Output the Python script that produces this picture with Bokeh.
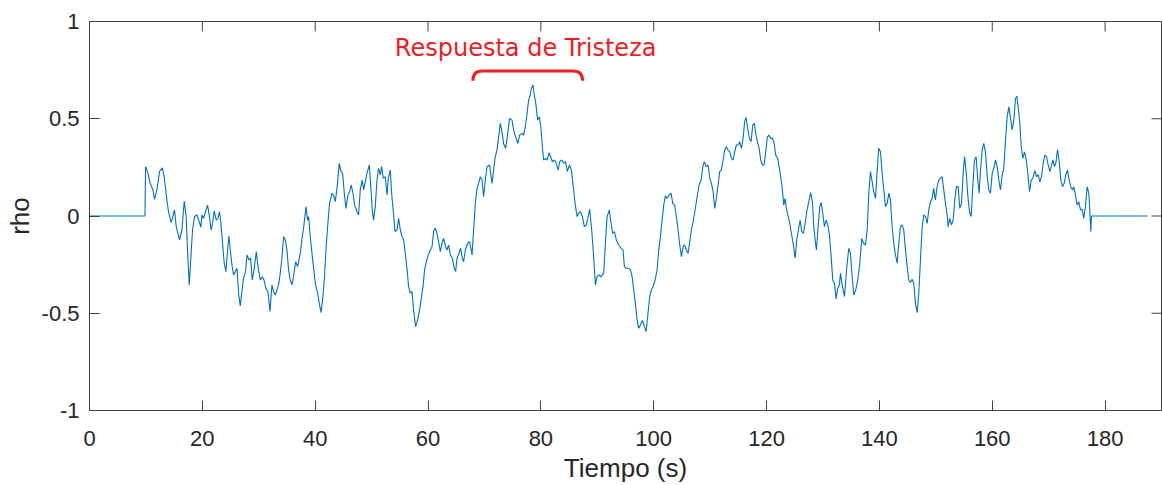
import math
from bokeh.plotting import figure
from bokeh.models import FixedTicker, CustomJSTickFormatter, Range1d
from bokeh.core.properties import value
from bokeh.embed import file_html
from bokeh.resources import INLINE

# ---- data ----
time_s = [0, 9.83, 9.93, 10.28, 10.76, 11.24, 11.52, 11.95, 12.41, 12.89, 13.24, 13.72, 14.0, 14.48, 14.78, 15.07, 15.37, 15.95, 16.38, 16.79, 17.14, 17.37, 17.67, 17.98, 18.26, 18.62, 19.04, 19.45, 19.75, 19.92, 20.21, 20.56, 20.92, 21.22, 21.57, 21.87, 22.1, 22.46, 22.76, 23.04, 23.29, 23.58, 23.88, 24.18, 24.47, 24.71, 24.95, 25.25, 25.53, 25.83, 26.13, 26.42, 26.72, 27.02, 27.3, 27.66, 27.91, 28.26, 28.55, 28.85, 29.2, 29.56, 29.86, 30.27, 30.62, 30.92, 31.28, 31.63, 31.99, 32.34, 32.62, 32.93, 33.23, 33.51, 33.81, 34.11, 34.4, 34.7, 35.0, 35.28, 35.58, 35.88, 36.17, 36.52, 36.88,
          37.36, 37.66, 37.94, 38.37, 38.65, 38.83, 39.13, 39.49, 39.72, 40.02, 40.43, 40.73, 41.03, 41.31, 41.61, 41.91, 42.2, 42.55, 42.98, 43.26, 43.56, 43.86, 44.27, 44.57, 44.86, 45.16, 45.46, 45.81, 46.1, 46.4, 46.7, 46.98, 47.41, 47.69, 47.99, 48.35, 48.58, 48.88, 49.18, 49.59, 49.89, 50.12, 50.35, 50.65, 50.95, 51.24, 51.54, 51.77, 52.07, 52.43, 52.73, 52.96, 53.31, 53.55, 53.85, 54.15, 54.5, 54.79, 55.09, 55.39, 55.67, 55.97, 56.27, 56.56, 56.86, 57.16, 57.44, 57.8, 58.15, 58.51, 58.81, 59.11, 59.39, 59.7, 60.05, 60.41, 60.71, 60.99, 61.29, 61.59, 61.88, 62.18, 62.48, 62.76, 63.12, 63.37, 63.65, 63.95, 64.31, 64.66, 64.89, 65.14, 65.49, 65.78, 66.08, 66.31, 66.61,
          67.02, 67.37, 67.8, 68.08, 68.38, 68.69, 68.97, 69.27, 69.57, 69.85, 70.15, 70.45, 70.91, 71.34, 71.62, 71.92, 72.22, 72.51, 72.81, 73.16, 73.39, 73.75, 74.05, 74.46, 74.88, 75.17, 75.52, 75.95, 76.23, 76.66, 76.95, 77.25, 77.55, 77.83, 78.13, 78.31, 78.61, 78.84, 79.14, 79.43, 79.73, 80.03, 80.26, 80.49, 80.79, 81.09, 81.45, 81.73, 82.03, 82.39, 82.74, 83.05, 83.33, 83.68, 84.04, 84.39, 84.69, 85.05, 85.41, 85.71, 86.06, 86.42, 86.7, 87.0, 87.36, 87.71, 88.07, 88.37, 88.65, 89.01, 89.36, 89.66, 89.96, 90.25, 90.67, 91.14, 91.44, 91.74, 92.14, 92.45, 92.73, 93.03, 93.38, 93.79, 94.22,
          94.57, 94.8, 95.15, 95.56, 95.87, 96.17, 96.45, 96.75, 97.05, 97.34, 97.64, 97.99, 98.35, 98.65, 98.93, 99.29, 99.59, 99.89, 100.25, 100.6, 100.89, 101.19, 101.49, 101.77, 102.07, 102.38, 102.73, 103.09, 103.37, 103.72, 104.02, 104.32, 104.61, 104.91, 105.21, 105.49, 105.79, 106.09, 106.38, 106.68, 106.98, 107.34, 107.69, 108.05, 108.4, 108.76, 108.99, 109.29, 109.65, 109.93, 110.23, 110.53, 110.81, 111.11, 111.41, 111.7, 112.0, 112.3, 112.58, 112.88, 113.18, 113.47, 113.77, 114.07, 114.35, 114.65, 114.95, 115.24, 115.54, 115.84, 116.12, 116.37, 116.66, 116.96, 117.26, 117.55, 117.85, 118.08, 118.38, 118.68, 118.97, 119.27, 119.57, 119.85, 120.15, 120.45, 120.74, 121.04, 121.34, 121.63, 121.98, 122.28,
          122.76, 123.05, 123.29, 123.52, 123.83, 124.11, 124.41, 124.71, 125.07, 125.35, 125.65, 125.95, 126.24, 126.54, 126.84, 127.12, 127.48, 127.83, 128.13, 128.37, 128.61, 128.84, 129.14, 129.43, 129.68, 129.96, 130.26, 130.56, 130.85, 131.15, 131.45, 131.73, 132.03, 132.33, 132.62, 132.92, 133.1, 133.4, 133.81, 134.04, 134.29, 134.57, 134.87, 135.17, 135.46, 135.81, 136.17, 136.52, 136.88, 137.18, 137.53, 137.83, 138.12, 138.42, 138.72, 139.0, 139.31, 139.61, 139.89, 140.19, 140.49, 140.78, 141.08, 141.38, 141.66, 141.96, 142.26, 142.55, 142.85, 143.15, 143.43, 143.73, 144.03, 144.32, 144.62, 144.92, 145.2, 145.5, 145.8, 146.09, 146.39, 146.69, 146.98, 147.28, 147.58, 147.86, 148.16, 148.46, 148.75, 149.05, 149.35, 149.63, 149.93, 150.23, 150.52, 150.82,
          151.12, 151.41, 151.71, 152.01, 152.19, 152.47, 152.77, 153.07, 153.36, 153.66, 153.96, 154.24, 154.55, 154.85, 155.08, 155.38, 155.66, 155.97, 156.27, 156.55, 156.85, 157.15, 157.44, 157.69, 157.92, 158.22, 158.5, 158.8, 159.11, 159.39, 159.69, 159.99, 160.28, 160.58, 160.88, 161.16, 161.46, 161.76, 162.05, 162.35, 162.65, 162.94, 163.24, 163.54, 163.82, 164.12, 164.36, 164.66, 164.89, 165.14, 165.42, 165.72, 166.02, 166.31, 166.61, 166.91, 167.19, 167.55, 167.84, 168.15, 168.43, 168.73, 169.03, 169.32, 169.62, 169.92, 170.21, 170.51, 170.74, 171.04, 171.27, 171.57, 171.87, 172.15, 172.45, 172.75, 173.04, 173.34, 173.64, 173.92, 174.22, 174.45, 174.75, 175.05, 175.34, 175.64, 175.94, 176.22, 176.52, 176.82, 177.11, 177.29, 177.47, 177.59, 187.5]

rho = [0, 0, 0.253, 0.228, 0.168, 0.134, 0.086, 0.134, 0.228, 0.248, 0.202, 0.082, 0.022, -0.034, -0.003, 0.031, -0.055, -0.123, -0.072, 0.077, -0.003, -0.175, -0.354, -0.209, -0.072, -0.003, 0.005, -0.029, -0.058, 0.005, -0.012, 0.022, 0.056, 0.005, -0.072, -0.029, 0.027, -0.021, -0.012, 0.022, -0.034, -0.140, -0.243, -0.286, -0.175, -0.103, -0.175, -0.252, -0.303, -0.286, -0.269, -0.397, -0.462, -0.389, -0.320, -0.286, -0.200, -0.226, -0.217, -0.329, -0.269, -0.183, -0.260, -0.329, -0.312, -0.329, -0.372, -0.389, -0.491, -0.354, -0.389, -0.406, -0.380, -0.354, -0.294, -0.217, -0.106, -0.123, -0.175, -0.277, -0.329, -0.354, -0.312, -0.235, -0.260,
       -0.192, -0.115, -0.063, 0.048, -0.021, -0.003, -0.106, -0.209, -0.269, -0.346, -0.397, -0.449, -0.497, -0.431, -0.329, -0.175, -0.055, 0.065, 0.117, 0.108, 0.074, 0.142, 0.271, 0.228, 0.220, 0.117, 0.039, 0.108, 0.125, 0.159, 0.117, 0.056, 0.022, 0.005, 0.134, 0.185, 0.134, 0.177, 0.220, 0.262, 0.134, 0.031, -0.021, 0.048, 0.185, 0.245, 0.211, 0.254, 0.194, 0.202, 0.108, 0.194, 0.236, 0.117, 0.022, -0.080, -0.072, -0.012, -0.072, -0.106, -0.123, -0.192, -0.269, -0.363, -0.397, -0.389, -0.483, -0.569, -0.534, -0.483, -0.423, -0.363, -0.277, -0.235, -0.200, -0.175, -0.158, -0.080, -0.063, -0.089, -0.132, -0.183, -0.140, -0.115, -0.158, -0.175, -0.149, -0.200, -0.217, -0.269, -0.286, -0.217, -0.192, -0.166, -0.217, -0.235, -0.175,
       -0.140, -0.132, -0.200, -0.072, 0.065, 0.142, 0.168, 0.202, 0.185, 0.099, 0.185, 0.253, 0.262, 0.168, 0.236, 0.305, 0.339, 0.407, 0.476, 0.425, 0.373, 0.348, 0.407, 0.502, 0.493, 0.442, 0.407, 0.373, 0.416, 0.425, 0.416, 0.459, 0.527, 0.596, 0.622, 0.656, 0.673, 0.622, 0.570, 0.493, 0.510, 0.450, 0.356, 0.288, 0.296, 0.288, 0.325, 0.305, 0.279, 0.288, 0.271, 0.236, 0.279, 0.288, 0.271, 0.279, 0.228, 0.262, 0.236, 0.159, 0.065, -0.003, 0.014, 0.022, -0.003, -0.055, -0.046, -0.003, 0.034, -0.072, -0.209, -0.354, -0.312, -0.303, -0.312, -0.294, -0.140, -0.003, 0.031, -0.038, -0.089, -0.080, -0.123, -0.149, -0.166,
       -0.175, -0.260, -0.269, -0.269, -0.277, -0.312, -0.380, -0.449, -0.534, -0.577, -0.560, -0.537, -0.569, -0.594, -0.517, -0.414, -0.380, -0.363, -0.329, -0.277, -0.175, -0.106, -0.021, 0.056, 0.103, 0.091, 0.108, 0.117, 0.065, 0.056, -0.003, -0.072, -0.149, -0.209, -0.158, -0.149, -0.175, -0.192, -0.132, -0.072, -0.029, 0.031, 0.099, 0.159, 0.185, 0.262, 0.279, 0.254, 0.262, 0.194, 0.168, 0.125, 0.039, 0.091, 0.159, 0.228, 0.236, 0.288, 0.339, 0.356, 0.339, 0.330, 0.296, 0.288, 0.330, 0.365, 0.365, 0.382, 0.348, 0.399, 0.485, 0.507, 0.450, 0.399, 0.382, 0.468, 0.476, 0.425, 0.382, 0.348, 0.288, 0.262, 0.262, 0.330, 0.407, 0.416, 0.399, 0.399, 0.373, 0.313, 0.296, 0.245,
       0.151, 0.056, 0.091, 0.039, -0.003, -0.038, -0.089, -0.140, -0.217, -0.123, -0.072, -0.021, -0.080, -0.089, -0.038, 0.022, 0.073, 0.120, 0.073, -0.055, -0.123, -0.175, -0.055, 0.048, 0.068, 0.014, -0.055, -0.021, -0.046, -0.098, -0.209, -0.329, -0.346, -0.426, -0.371, -0.354, -0.294, -0.354, -0.414, -0.329, -0.243, -0.166, -0.192, -0.312, -0.406, -0.380, -0.329, -0.243, -0.115, -0.140, -0.149, -0.072, 0.117, 0.228, 0.176, 0.125, 0.091, 0.236, 0.348, 0.330, 0.219, 0.134, 0.048, 0.065, 0.117, 0.082, -0.055, -0.140, -0.200, -0.243, -0.140, -0.055, -0.046, -0.072, -0.175, -0.260, -0.329, -0.342, -0.325, -0.346, -0.449, -0.497, -0.397, -0.226, -0.055, 0.005, -0.003, -0.038, 0.031, 0.073, 0.091, 0.142, 0.082, 0.151, 0.185, 0.194,
       0.202, 0.134, 0.065, 0.005, -0.055, -0.012, -0.046, -0.021, 0.082, 0.151, 0.151, 0.039, 0.065, 0.219, 0.305, 0.228, 0.108, 0.022, -0.003, 0.151, 0.288, 0.305, 0.185, 0.117, 0.236, 0.339, 0.373, 0.330, 0.202, 0.134, 0.117, 0.219, 0.245, 0.288, 0.254, 0.185, 0.134, 0.211, 0.245, 0.390, 0.510, 0.561, 0.502, 0.442, 0.493, 0.604, 0.616, 0.545, 0.476, 0.356, 0.296, 0.330, 0.288, 0.219, 0.125, 0.185, 0.194, 0.233, 0.202, 0.211, 0.176, 0.202, 0.271, 0.313, 0.305, 0.262, 0.228, 0.262, 0.288, 0.254, 0.271, 0.342, 0.279, 0.185, 0.151, 0.168, 0.211, 0.236, 0.185, 0.151, 0.134, 0.151, 0.108, 0.056, 0.073, 0.031, 0.035, -0.012, 0.048, 0.151, 0.117, 0.031, -0.080, 0.0, 0.0]

x_ticks = [0, 20, 40, 60, 80, 100, 120, 140, 160, 180]
y_ticks = [-1, -0.5, 0, 0.5, 1]
x_label = "Tiempo (s)"
y_label = "rho"
x_lim = (0, 190)
y_lim = (-1, 1)

anno_text = ["Respuesta de Tristeza"]
anno_x = [77.3]
anno_y = [0.866]
# brace: left/right rounded corners + top bar
brace_x0 = [67.95, 87.4]
brace_y0 = [0.695, 0.695]
brace_cx = [67.95, 87.4]
brace_cy = [0.746, 0.746]
brace_x1 = [69.6, 85.7]
brace_y1 = [0.746, 0.746]

LINE_BLUE = "#0072BD"
RED = "#EE1D23"
AX = "#262626"
AXLINE = "#404040"

p = figure(width=1162, height=485, output_backend="svg", toolbar_location=None,
           x_range=Range1d(*x_lim), y_range=Range1d(*y_lim),
           min_border_left=89, min_border_right=1, min_border_top=21, min_border_bottom=74,
           background_fill_color="white", border_fill_color="white")
p.outline_line_color = AXLINE
p.outline_line_width = 1
p.grid.visible = False

fmt = CustomJSTickFormatter(code="return tick.toString()")

p.xaxis.ticker = FixedTicker(ticks=x_ticks)
p.yaxis.ticker = FixedTicker(ticks=y_ticks)
for ax in (p.xaxis[0], p.yaxis[0]):
    ax.formatter = fmt
    ax.major_tick_in = 10
    ax.major_tick_out = 0
    ax.minor_tick_in = 0
    ax.minor_tick_out = 0
    ax.axis_line_color = AXLINE
    ax.major_tick_line_color = AXLINE
    ax.major_label_text_font = "Liberation Sans"
    ax.major_label_text_font_size = "22px"
    ax.major_label_text_color = AX
    ax.axis_label_text_font = "Liberation Sans"
    ax.axis_label_text_font_size = "26px"
    ax.axis_label_text_font_style = "normal"
    ax.axis_label_text_color = AX

p.xaxis.axis_label = x_label
p.yaxis.axis_label = y_label
p.xaxis.major_label_standoff = 20
p.xaxis.axis_label_standoff = 4
p.yaxis.major_label_standoff = 10
p.yaxis.axis_label_standoff = 4

# box ticks on the top and right edges (MATLAB "box on")
p.ray(x=x_ticks, y=[y_lim[1]] * len(x_ticks), length=10, length_units="screen",
      angle=-math.pi / 2, line_color=AXLINE, line_width=1)
p.ray(x=[x_lim[1]] * len(y_ticks), y=y_ticks, length=10, length_units="screen",
      angle=math.pi, line_color=AXLINE, line_width=1)

p.line(time_s, rho, line_color=LINE_BLUE, line_width=1.1)

p.text(x=anno_x, y=anno_y, text=anno_text, text_font=value("DejaVu Sans"),
       text_font_size="24px", text_color=RED, text_align="center", text_baseline="alphabetic")
p.quadratic(x0=brace_x0, y0=brace_y0, x1=brace_x1, y1=brace_y1, cx=brace_cx, cy=brace_cy,
            line_color=RED, line_width=3)
p.segment(x0=[brace_x1[0]], y0=[brace_y1[0]], x1=[brace_x1[1]], y1=[brace_y1[1]],
          line_color=RED, line_width=3)

open("out.html", "w").write(file_html(p, INLINE))
